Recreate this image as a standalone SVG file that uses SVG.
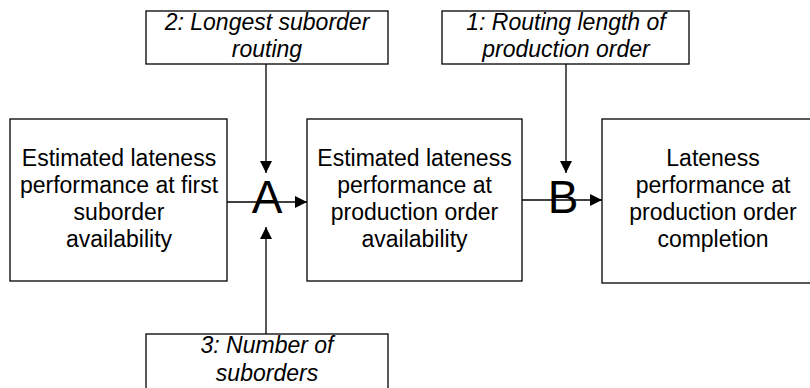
<svg xmlns="http://www.w3.org/2000/svg" width="810" height="388" viewBox="0 0 810 388">
<defs>
<style>
.box{fill:#fff;stroke:#000;stroke-width:1.3}
.t{font-family:"Liberation Sans",Arial,sans-serif;font-size:23px;fill:#000;text-anchor:middle}
.i{font-style:italic}
.big{font-family:"Liberation Sans",Arial,sans-serif;font-size:46px;fill:#000;text-anchor:middle}
.ln{stroke:#000;stroke-width:1.3;fill:none}
</style>
<marker id="ah" markerWidth="12" markerHeight="12" refX="12" refY="6" orient="auto" markerUnits="userSpaceOnUse">
<path d="M0,0 L12,6 L0,12 z" fill="#000"/>
</marker>
</defs>
<rect width="810" height="388" fill="#fff"/>
<g id="connectors">
<line class="ln" x1="266" y1="64" x2="266" y2="173" marker-end="url(#ah)"/>
<line class="ln" x1="266" y1="334" x2="266" y2="227" marker-end="url(#ah)"/>
<line class="ln" x1="227" y1="202" x2="307" y2="202" marker-end="url(#ah)"/>
<line class="ln" x1="566" y1="64" x2="566" y2="173" marker-end="url(#ah)"/>
<line class="ln" x1="522" y1="200" x2="602" y2="200" marker-end="url(#ah)"/>
</g>
<g id="junctionA"><text class="big" x="267" y="213">A</text></g>
<g id="junctionB"><text class="big" x="563" y="213">B</text></g>
<g id="n1">
<rect class="box" x="10" y="119" width="217" height="162"/>
<text class="t" x="119" y="166">Estimated lateness</text>
<text class="t" x="119" y="193">performance at first</text>
<text class="t" x="119" y="220">suborder</text>
<text class="t" x="119" y="247">availability</text>
</g>
<g id="n2">
<rect class="box" x="307" y="119" width="215" height="162"/>
<text class="t" x="414.5" y="166">Estimated lateness</text>
<text class="t" x="414.5" y="193">performance at</text>
<text class="t" x="414.5" y="220">production order</text>
<text class="t" x="414.5" y="247">availability</text>
</g>
<g id="n3">
<rect class="box" x="602" y="119" width="230" height="164"/>
<text class="t" x="713" y="166">Lateness</text>
<text class="t" x="713" y="193">performance at</text>
<text class="t" x="713" y="220">production order</text>
<text class="t" x="713" y="247">completion</text>
</g>
<g id="f2">
<rect class="box" x="146" y="11" width="242" height="53"/>
<text class="t i" x="267" y="30">2: Longest suborder</text>
<text class="t i" x="267" y="57">routing</text>
</g>
<g id="f1">
<rect class="box" x="442" y="11" width="247" height="53"/>
<text class="t i" x="566" y="30">1: Routing length of</text>
<text class="t i" x="566" y="57">production order</text>
</g>
<g id="f3">
<rect class="box" x="146" y="334" width="242" height="70"/>
<text class="t i" x="267" y="353">3: Number of</text>
<text class="t i" x="267" y="381">suborders</text>
</g>
</svg>
